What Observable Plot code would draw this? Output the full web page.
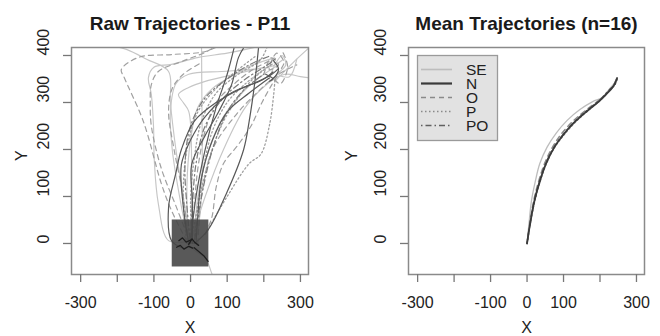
<!DOCTYPE html>
<html>
<head>
<meta charset="utf-8">
<script src="https://cdn.jsdelivr.net/npm/d3@7"></script>
<script src="https://cdn.jsdelivr.net/npm/@observablehq/plot@0.6"></script>
<style>
  html, body { margin: 0; padding: 0; background: #fff; }
  #wrap { position: relative; width: 660px; height: 336px; display: flex; }
  #wrap > svg, #wrap > figure { margin: 0; }
  #legend { position: absolute; left: 0; top: 0; pointer-events: none; }
</style>
</head>
<body>
<div id="wrap"></div>
<script>
// ---------- data ----------
const conditions = ["SE", "N", "O", "P", "PO"];
const xTicks = [-300, -200, -100, 0, 100, 200, 300];
const xTickLabels = ["-300", "", "-100", "0", "100", "", "300"];
const yTicks = [0, 100, 200, 300, 400];
const xDomain = [-325, 322];
const yDomain = [-66, 417];
const titles = ["Raw Trajectories - P11", "Mean Trajectories (n=16)"];

// raw trajectories of participant P11, by condition
const rawSE = [
  [[-5,0],[-30,100],[-50,200],[-55,280],[-40,340],[-5,360],[85,366],[160,370],[222,377],[250,390]],
  [[-5,5],[-60,6],[-88,85],[-99,177],[-101,247],[-107,317],[-115,353],[-100,375],[-52,381],[22,396],[100,405],[180,418]],
  [[0,0],[3,168],[-5,281],[-20,300],[-33,317],[-5,332],[40,345],[120,360],[200,375]],
  [[20,20],[30,106],[32,200],[31,300],[30,420]],
  [[0,0],[40,100],[90,200],[150,290],[210,340],[258,360],[300,355],[330,352]],
  [[-10,0],[20,-20],[40,-30],[58,-64],[66,-80]],
  [[0,0],[-20,100],[-40,200],[-55,300],[-60,366],[-120,392],[-175,413],[-210,420]],
  [[10,0],[20,100],[50,200],[90,270],[140,320],[200,360],[240,380]],
  [[-5,0],[-10,120],[0,220],[20,290],[60,330],[110,355],[170,380],[230,395]],
  [[215,350],[230,380],[250,400],[260,380],[240,360],[270,355],[290,392]],
  [[230,345],[280,385],[326,418]]
];
const rawN = [
  [[-5,0],[-20,80],[-25,168],[0,220],[38,268],[104,317],[186,345],[222,360],[240,372]],
  [[5,0],[5,90],[3,168],[40,230],[77,281],[112,338],[131,396],[148,420]],
  [[10,0],[47,28],[100,110],[145,200],[160,260],[175,340],[186,420]],
  [[-20,-10],[-52,6],[-60,77],[-40,150],[-25,200],[10,260],[70,300],[140,330],[200,350],[225,365]],
  [[15,0],[20,60],[30,140],[60,220],[100,280],[160,320],[215,352]],
  [[0,0],[15,100],[40,200],[70,290],[100,360],[120,420]],
  [[205,360],[225,350],[215,345],[232,356],[240,372],[225,390]]
];
const rawO = [
  [[-10,5],[-52,70],[-80,128],[-129,260],[-181,353],[-189,370],[-142,396],[-52,402],[38,408],[77,420]],
  [[0,0],[-40,80],[-80,160],[-107,250],[-110,300],[-107,338],[-88,366],[-25,387],[38,406],[70,420]],
  [[40,20],[58,55],[70,120],[90,170],[130,210],[165,250],[195,300],[222,338],[240,360]],
  [[0,0],[10,80],[20,160],[40,240],[70,300],[120,340],[170,370],[220,390]],
  [[-5,0],[-20,100],[-45,200],[-60,280],[-50,330],[-20,360],[30,385]],
  [[20,0],[30,100],[60,200],[120,270],[180,320],[240,360],[290,380]],
  [[200,360],[220,395],[240,380],[215,370],[235,405],[255,385],[230,350],[245,340],[265,375],[250,410]]
];
const rawP = [
  [[10,0],[20,80],[35,160],[60,240],[100,300],[150,340],[200,370],[230,385]],
  [[5,0],[0,90],[10,180],[30,260],[70,320],[130,360],[190,390],[210,420]],
  [[40,20],[100,100],[160,170],[192,190],[215,250],[227,317],[230,345]],
  [[-10,0],[-20,100],[-10,200],[20,280],[70,330],[130,370],[180,400]],
  [[0,0],[25,100],[55,190],[90,260],[130,310],[170,350],[220,380]]
];
const rawPO = [
  [[0,0],[5,80],[15,170],[40,250],[90,310],[150,350],[210,380],[235,395]],
  [[0,0],[-10,80],[-15,170],[0,250],[40,310],[100,350],[160,380],[220,400]],
  [[10,0],[30,100],[60,200],[100,280],[150,330],[200,360]]
];
const startJitter = [
  [[-38,-8],[-28,-4],[-18,-12],[-5,-6],[6,-10]],
  [[10,-9],[36,-26],[48,-38]],
  [[-32,6],[-22,12],[-12,3],[2,8]],
  [[-5,-2],[4,10],[12,2],[22,-4]]
];
const startBox = [{x1: -50, x2: 50, y1: -50, y2: 50}];

// mean trajectories (n=16)
const meanSE = [[0,0],[5,40],[12,90],[22,130],[35,170],[55,205],[80,235],[110,262],[145,285],[180,302],[205,310],[225,328],[240,342],[246,352]];
const meanN  = [[0,0],[8,40],[20,90],[34,130],[52,170],[75,205],[100,232],[130,258],[165,282],[198,303],[220,320],[238,336],[247,352]];
const meanO  = [[0,0],[7,40],[18,90],[31,130],[48,170],[70,205],[95,234],[127,261],[162,284],[196,304],[218,318],[234,332],[244,348]];
const meanP  = [[0,0],[8,40],[21,90],[35,130],[53,170],[76,205],[102,232],[132,258],[166,282],[200,304],[222,322],[240,338],[248,350]];
const meanPO = [[0,0],[8,40],[20,90],[34,130],[51,170],[74,205],[99,232],[129,258],[164,283],[198,304],[215,318],[230,330],[240,336],[244,346]];

// ---------- styles ----------
const style = {
  SE: {stroke: "#c6c6c6", dash: null, width: 1.15},
  N:  {stroke: "#585858", dash: null, width: 1.2},
  O:  {stroke: "#a0a0a0", dash: "5,4", width: 1.2},
  P:  {stroke: "#a0a0a0", dash: "1.5,2.5", width: 1.3},
  PO: {stroke: "#7a7a7a", dash: "1.5,3,6,3", width: 1.2}
};
const meanStyle = {
  SE: {stroke: "#bdbdbd", dash: null, width: 1.3},
  N:  {stroke: "#3a3a3a", dash: null, width: 1.8},
  O:  {stroke: "#8a8a8a", dash: "5,4", width: 1.5},
  P:  {stroke: "#8a8a8a", dash: "1.5,2.5", width: 1.5},
  PO: {stroke: "#606060", dash: "1.5,3,6,3", width: 1.5}
};
const FONT = "'Liberation Sans', Arial, Helvetica, sans-serif";
const FS = 16;

function flatten(trajs) {
  const out = [];
  trajs.forEach((t, i) => t.forEach(([x, y]) => out.push({id: i, x, y})));
  return out;
}
function lineMark(trajs, st, curve = "catmull-rom") {
  return Plot.line(flatten(trajs), {
    x: "x", y: "y", z: "id", stroke: st.stroke, strokeWidth: st.width,
    strokeDasharray: st.dash, curve, clip: true
  });
}

function panel(title, dataMarks, ml, mr, yLabelDx) {
  return Plot.plot({
    width: 330, height: 336,
    marginTop: 47, marginBottom: 62, marginLeft: ml, marginRight: mr,
    x: {domain: xDomain},
    y: {domain: yDomain},
    style: {fontFamily: FONT, fontSize: FS + "px", color: "#222", background: "white"},
    marks: [
      ...dataMarks,
      Plot.frame({stroke: "#8a8a8a", strokeWidth: 1.5}),
      Plot.axisX({ticks: xTicks, tickSize: 8, tickFormat: () => "", label: null, stroke: "#777", strokeWidth: 1.3}),
      Plot.axisY({ticks: yTicks, tickSize: 8, tickFormat: () => "", label: null, stroke: "#777", strokeWidth: 1.3}),
      Plot.text(xTicks, {x: d => d, text: (d, i) => xTickLabels[i], frameAnchor: "bottom", dy: 33, fontSize: FS, fill: "#222"}),
      Plot.text(yTicks, {y: d => d, text: d => String(d), frameAnchor: "left", dx: -28, rotate: -90, fontSize: FS, fill: "#222"}),
      Plot.text([title], {frameAnchor: "top", dy: -31, fontWeight: "bold", fontSize: 19, fill: "#1a1a1a"}),
      Plot.text(["X"], {frameAnchor: "bottom", dy: 58, fontSize: FS, fill: "#222"}),
      Plot.text(["Y"], {frameAnchor: "left", dx: yLabelDx, rotate: -90, fontSize: FS, fill: "#222"})
    ]
  });
}

const rawMarks = [
  lineMark(rawSE, style.SE),
  lineMark(rawO, style.O),
  lineMark(rawP, style.P),
  lineMark(rawPO, style.PO),
  lineMark(rawN, style.N),
  Plot.rect(startBox, {x1: "x1", x2: "x2", y1: "y1", y2: "y2", fill: "#474747", fillOpacity: 0.9}),
  lineMark(startJitter, {stroke: "#1e1e1e", dash: null, width: 1.3}, "linear")
];
const meanSets = {SE: meanSE, N: meanN, O: meanO, P: meanP, PO: meanPO};
const meanMarks = ["SE", "O", "P", "PO", "N"].map(c => lineMark([meanSets[c]], meanStyle[c]));

const wrap = document.getElementById("wrap");
wrap.appendChild(panel(titles[0], rawMarks, 71, 22, -50));
wrap.appendChild(panel(titles[1], meanMarks, 78, 16, -57));

// ---------- legend ----------
const lg = d3.select(wrap).append("svg").attr("id", "legend").attr("width", 660).attr("height", 336);
lg.append("rect").attr("x", 417.5).attr("y", 55.5).attr("width", 80).attr("height", 85)
  .attr("fill", "#e2e2e2").attr("stroke", "#9a9a9a").attr("stroke-width", 1.3);
const rowY = [69.5, 83.5, 97.5, 111.5, 125.5];
conditions.forEach((c, i) => {
  const st = meanStyle[c];
  lg.append("line").attr("x1", 421).attr("x2", 452).attr("y1", rowY[i]).attr("y2", rowY[i])
    .attr("stroke", st.stroke).attr("stroke-width", c === "N" ? 2.2 : 1.6)
    .attr("stroke-dasharray", st.dash);
  lg.append("text").attr("x", 466).attr("y", rowY[i]).attr("dy", "0.36em")
    .attr("font-family", FONT).attr("font-size", 15.5).attr("fill", "#222").text(c);
});
</script>
</body>
</html>
